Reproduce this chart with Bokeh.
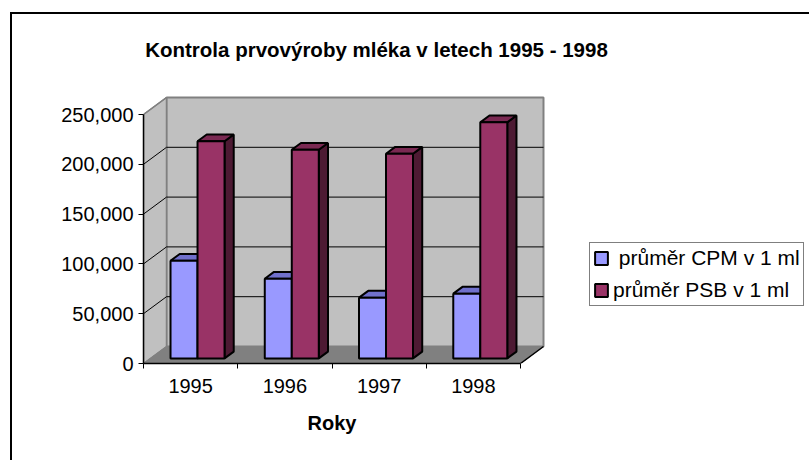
from bokeh.plotting import figure
from bokeh.models import (FixedTicker, NumeralTickFormatter, Range1d, Legend,
                          LegendItem, Title, Label)
from bokeh.embed import file_html
from bokeh.resources import INLINE

# ---------------- data ----------------
years = ["1995", "1996", "1997", "1998"]
cpm = [98000, 80000, 61000, 65000]          # průměr CPM v 1 ml
psb = [218000, 209500, 205500, 237000]      # průměr PSB v 1 ml
series_labels = [" průměr CPM v 1 ml", "průměr PSB v 1 ml"]
y_ticks = [0, 50000, 100000, 150000, 200000, 250000]
title_text = "Kontrola prvovýroby mléka v letech 1995 - 1998"
x_title = "Roky"

# ---------------- layout / style ----------------
FONT = "Liberation Sans"
OX, OY = 12, 14                     # page position of the canvas (inside the chart border)
PAGE_W, PAGE_H = 811, 462
W, H = PAGE_W - OX, PAGE_H - OY
# frame (page px): the axes sit on its left and bottom edges
FRAME_LEFT, FRAME_RIGHT, FRAME_TOP, FRAME_BOTTOM = 143, 811, 20, 363
AXES_W_PX, AXES_H_PX = 377, 249     # front floor width, front height of 250,000
DEPTH_PX_X, DEPTH_PX_Y = 23, 17
F0, F1 = 0.3, 0.7          # bar depth (front/back) as fraction of the floor depth
BAR_W = 0.2865             # bar width in category units

n = len(years)
y_top = y_ticks[-1]
px_per_cat = AXES_W_PX / n
units_per_px = y_top / AXES_H_PX
DX = DEPTH_PX_X / px_per_cat
DY = DEPTH_PX_Y * units_per_px
x_end = (FRAME_RIGHT - FRAME_LEFT) / px_per_cat
y_end = (FRAME_BOTTOM - FRAME_TOP) * units_per_px
wall_r = n + DX
wall_t = y_top + DY


def data_x(px):
    return (px - FRAME_LEFT) / px_per_cat


def data_y(py):
    return (FRAME_BOTTOM - py) * units_per_px


p = figure(width=W, height=H, output_backend="svg", toolbar_location=None,
           x_range=Range1d(0, x_end), y_range=Range1d(0, y_end),
           min_border_left=FRAME_LEFT - OX, min_border_right=PAGE_W - FRAME_RIGHT,
           min_border_top=FRAME_TOP - OY, min_border_bottom=PAGE_H - FRAME_BOTTOM)
p.margin = (OY - 2, 0, 0, OX - 2)
p.styles = {"border-top": "2px solid black", "border-left": "2px solid black"}
p.background_fill_color = "white"
p.border_fill_color = "white"
p.outline_line_color = None
p.xgrid.visible = False
p.ygrid.visible = False

WALL = "#C0C0C0"
WALL_EDGE = "#808080"
FLOOR = "#808080"

# back wall
p.quad(left=[DX], right=[wall_r], bottom=[DY], top=[wall_t],
       fill_color=WALL, line_color=WALL_EDGE, line_width=2)
# left wall
p.patch([0, DX, DX, 0], [0, DY, wall_t, y_top],
        fill_color=WALL, line_color=WALL_EDGE, line_width=1.5)
# floor
p.patch([0, n, n + DX, DX], [0, 0, DY, DY],
        fill_color=FLOOR, line_color=FLOOR, line_width=1)
# floor right edge
p.segment(x0=[n], y0=[0], x1=[n + DX], y1=[DY], line_color="black", line_width=1.5)

# gridlines on the back wall and the left wall
grid_vals = [v for v in y_ticks if 0 < v < y_top]
p.multi_line([[DX, wall_r] for v in grid_vals], [[v + DY, v + DY] for v in grid_vals],
             line_color="black", line_width=1)
p.multi_line([[0, DX] for v in grid_vals], [[v, v + DY] for v in grid_vals],
             line_color="black", line_width=1)
p.segment(x0=[0], y0=[y_top], x1=[DX], y1=[wall_t], line_color=WALL_EDGE, line_width=1.5)


def bar_faces(values, offset):
    tx, ty, sx, sy = [], [], [], []
    left, right, bottom, top = [], [], [], []
    ddx, ddy = (F1 - F0) * DX, (F1 - F0) * DY
    for i, v in enumerate(values):
        l = i + 0.5 + offset + F0 * DX
        r = l + BAR_W
        b = F0 * DY
        t = v + F0 * DY
        left.append(l); right.append(r); bottom.append(b); top.append(t)
        tx.append([l, r, r + ddx, l + ddx]); ty.append([t, t, t + ddy, t + ddy])
        sx.append([r, r + ddx, r + ddx, r]); sy.append([b, b + ddy, t + ddy, t])
    return left, right, bottom, top, tx, ty, sx, sy


series = [
    (cpm, -BAR_W, "#9999FF", "#7070CC", "#4D4D80"),
    (psb, 0.0, "#993366", "#7A2952", "#4D1A33"),
]
front_renderers = []
for vals, off, c_front, c_top, c_side in series:
    l, r, b, t, tx, ty, sx, sy = bar_faces(vals, off)
    p.patches(sx, sy, fill_color=c_side, line_color="black", line_width=2)
    p.patches(tx, ty, fill_color=c_top, line_color="black", line_width=2)
    fr = p.quad(left=l, right=r, bottom=b, top=t, fill_color=c_front,
                line_color="black", line_width=2)
    front_renderers.append(fr)

# axes
yax = p.yaxis[0]
yax.ticker = FixedTicker(ticks=y_ticks)
yax.formatter = NumeralTickFormatter(format="0,0")
yax.bounds = (0, y_top)
yax.axis_line_color = "black"
yax.axis_line_width = 1.5
yax.major_tick_out = 5
yax.major_tick_in = 0
yax.minor_tick_out = 0
yax.minor_tick_in = 0
yax.major_tick_line_color = "black"
yax.major_label_standoff = 5
yax.major_label_text_font = FONT
yax.major_label_text_font_size = "20px"
yax.major_label_text_color = "black"

xax = p.xaxis[0]
xax.ticker = FixedTicker(ticks=[i + 0.5 for i in range(n)], minor_ticks=list(range(n + 1)))
xax.major_label_overrides = {i + 0.5: years[i] for i in range(n)}
xax.bounds = (0, n)
xax.axis_line_color = "black"
xax.axis_line_width = 1.5
xax.major_tick_out = 0
xax.major_tick_in = 0
xax.minor_tick_out = 5
xax.minor_tick_in = 0
xax.minor_tick_line_color = "black"
xax.major_label_standoff = 10
xax.major_label_text_font = FONT
xax.major_label_text_font_size = "20px"
xax.major_label_text_color = "black"

# x-axis title, centred under the front edge of the floor
roky = Title(text=x_title, align="left", offset=164, vertical_align="top", standoff=33,
             text_font=FONT, text_font_size="20px", text_font_style="bold",
             text_color="black")
p.add_layout(roky, "below")

# chart title
p.add_layout(Label(x=data_x(376), y=data_y(49), text=title_text,
                   text_align="center", text_baseline="alphabetic",
                   text_font=FONT, text_font_style="bold", text_font_size="20.5px",
                   text_color="black"))

# legend
legend = Legend(items=[LegendItem(label=series_labels[k], renderers=[front_renderers[k]])
                       for k in range(2)],
                location=(589 - FRAME_LEFT, FRAME_BOTTOM - 306),
                label_text_font=FONT, label_text_font_size="21px",
                label_text_color="black", label_height=24,
                glyph_width=16, glyph_height=16, label_standoff=4,
                padding=3, spacing=8, margin=0,
                border_line_color="black", border_line_width=1,
                background_fill_color="white", background_fill_alpha=1)
p.add_layout(legend, "center")

open("out.html", "w").write(file_html(p, INLINE))
